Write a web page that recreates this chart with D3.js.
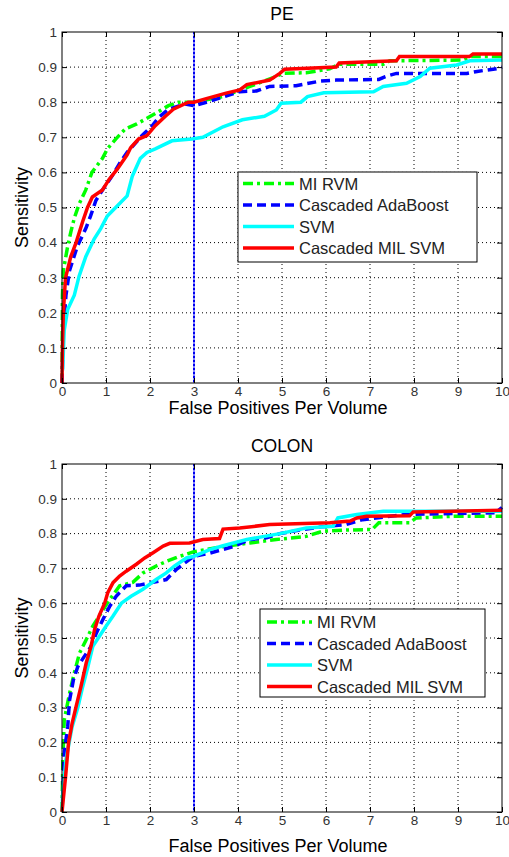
<!DOCTYPE html>
<html>
<head>
<meta charset="utf-8">
<script src="https://cdn.jsdelivr.net/npm/d3@7"></script>
<style>
  body { margin: 0; background: #fff; }
  text { font-family: "Liberation Sans", Arial, sans-serif; }
</style>
</head>
<body>
<div class="chart"></div>
<script>
// tick values
var xTicks = [0, 1, 2, 3, 4, 5, 6, 7, 8, 9, 10];
var yTicks = [0, 0.1, 0.2, 0.3, 0.4, 0.5, 0.6, 0.7, 0.8, 0.9, 1];
var seriesNames = ["MI RVM", "Cascaded AdaBoost", "SVM", "Cascaded MIL SVM"];

// PE curves [fp per volume, sensitivity]
var peMiRvm = [[0,0],[0.01,0.25],[0.03,0.32],[0.13,0.39],[0.2,0.43],[0.28,0.47],[0.39,0.51],[0.54,0.55],[0.68,0.6],
  [0.92,0.64],[1.03,0.667],[1.22,0.695],[1.44,0.724],[1.7,0.738],[1.97,0.757],[2.23,0.776],[2.42,0.79],[2.65,0.8],
  [3.0,0.8],[3.66,0.816],[4.27,0.845],[4.8,0.87],[5.02,0.882],[5.55,0.884],[6.08,0.895],[6.3,0.908],[7.3,0.908],
  [7.45,0.918],[9.1,0.92],[9.3,0.93],[10,0.93]];
var peAdaBoost = [[0,0],[0.03,0.15],[0.09,0.25],[0.17,0.32],[0.35,0.39],[0.54,0.44],[0.65,0.476],[0.77,0.52],[0.92,0.55],
  [1.14,0.59],[1.33,0.63],[1.48,0.657],[1.82,0.705],[2.05,0.733],[2.2,0.757],[2.42,0.78],[2.8,0.795],[3.0,0.79],
  [3.28,0.8],[4.04,0.83],[4.42,0.832],[4.72,0.845],[5.32,0.847],[5.86,0.86],[6.23,0.863],[7.2,0.865],[7.35,0.873],
  [7.6,0.882],[9.2,0.882],[9.4,0.887],[9.9,0.896],[10,0.9]];
var peSvm = [[0,0.03],[0.015,0.04],[0.05,0.15],[0.13,0.21],[0.28,0.25],[0.39,0.305],[0.54,0.36],[0.73,0.41],[0.88,0.44],
  [1.03,0.476],[1.26,0.505],[1.48,0.533],[1.6,0.59],[1.78,0.64],[1.93,0.657],[2.12,0.667],[2.5,0.69],[2.95,0.695],
  [3.2,0.7],[3.66,0.73],[4.1,0.75],[4.6,0.76],[4.87,0.778],[4.98,0.797],[5.43,0.8],[5.58,0.816],[5.95,0.827],
  [7.08,0.83],[7.3,0.845],[7.83,0.854],[8.14,0.873],[8.36,0.897],[8.97,0.906],[9.27,0.918],[10,0.92]];
var peMilSvm = [[0,0],[0.01,0.1],[0.03,0.2],[0.08,0.3],[0.2,0.36],[0.32,0.4],[0.47,0.46],[0.58,0.5],[0.69,0.53],
  [0.92,0.55],[1.07,0.58],[1.26,0.61],[1.48,0.65],[1.56,0.67],[1.74,0.695],[1.93,0.705],[2.12,0.733],[2.35,0.76],
  [2.53,0.78],[2.87,0.8],[3.0,0.8],[3.28,0.81],[3.73,0.826],[4.04,0.835],[4.2,0.85],[4.72,0.863],[4.95,0.882],
  [5.06,0.894],[6.23,0.9],[6.3,0.912],[7.6,0.918],[7.67,0.93],[9.26,0.93],[9.34,0.937],[10,0.937]];

// COLON curves
var colonMiRvm = [[0,0],[0.02,0.15],[0.05,0.264],[0.17,0.34],[0.28,0.4],[0.4,0.457],[0.55,0.495],[0.7,0.534],
  [0.89,0.572],[1.08,0.61],[1.31,0.65],[1.61,0.66],[1.84,0.687],[2.14,0.707],[2.37,0.72],[2.68,0.735],[3.0,0.748],
  [3.66,0.763],[4.27,0.773],[4.87,0.783],[5.55,0.792],[5.93,0.807],[6.45,0.81],[7.05,0.812],[7.2,0.831],
  [7.9,0.831],[8.05,0.845],[8.95,0.85],[10,0.85]];
var colonAdaBoost = [[0,0.04],[0.015,0.04],[0.03,0.1],[0.05,0.17],[0.13,0.245],[0.17,0.32],[0.26,0.38],[0.36,0.418],
  [0.47,0.44],[0.66,0.476],[0.78,0.514],[0.93,0.553],[1.08,0.59],[1.23,0.62],[1.46,0.65],[1.76,0.652],[2.07,0.66],
  [2.37,0.668],[2.6,0.697],[2.9,0.726],[3.0,0.735],[3.36,0.744],[3.9,0.763],[4.27,0.783],[4.65,0.788],[4.95,0.8],
  [5.4,0.81],[5.93,0.82],[6.45,0.826],[6.83,0.84],[7.8,0.855],[9.85,0.86],[10,0.875]];
var colonSvm = [[0,0],[0.015,0.05],[0.09,0.15],[0.23,0.245],[0.36,0.3],[0.47,0.36],[0.59,0.418],[0.7,0.476],
  [0.85,0.505],[1.0,0.534],[1.16,0.563],[1.35,0.6],[1.57,0.62],[1.84,0.64],[2.14,0.668],[2.37,0.687],[2.56,0.707],
  [2.83,0.73],[3.0,0.735],[3.36,0.754],[3.66,0.765],[4.2,0.783],[4.95,0.8],[5.55,0.816],[6.16,0.821],[6.27,0.845],
  [6.7,0.855],[7.3,0.864],[10,0.864]];
var colonMilSvm = [[0,0],[0.08,0.1],[0.15,0.2],[0.23,0.255],[0.32,0.303],[0.43,0.36],[0.55,0.428],[0.66,0.476],
  [0.74,0.524],[0.84,0.563],[0.97,0.6],[1.04,0.63],[1.16,0.659],[1.31,0.678],[1.46,0.692],[1.69,0.712],[1.88,0.73],
  [2.07,0.745],[2.3,0.764],[2.45,0.772],[2.9,0.773],[3.2,0.783],[3.58,0.786],[3.66,0.813],[4.04,0.816],[4.72,0.826],
  [6.09,0.831],[6.55,0.836],[6.7,0.845],[6.92,0.85],[7.9,0.851],[7.98,0.862],[10,0.867]];

var colors = ["#00ff00", "#0000ff", "#00ffff", "#ff0000"];
var dashes = ["10,4,3,4", "9,5", null, null];

var svg = d3.select(".chart").append("svg")
  .attr("width", 509)
  .attr("height", 857);

// one panel per dataset
function drawPanel(title, curves, box, legendPos) {
  var x = d3.scaleLinear().domain([0, 10]).range([box.left, box.right]);
  var y = d3.scaleLinear().domain([0, 1]).range([box.bottom, box.top]);
  var g = svg.append("g");

  // grid
  g.selectAll(".gx").data(xTicks.slice(1, -1)).enter().append("line")
    .attr("x1", d => x(d)).attr("x2", d => x(d))
    .attr("y1", box.top).attr("y2", box.bottom)
    .attr("stroke", "#000").attr("stroke-width", 1).attr("stroke-dasharray", "1,3");
  g.selectAll(".gy").data(yTicks.slice(1, -1)).enter().append("line")
    .attr("x1", box.left).attr("x2", box.right)
    .attr("y1", d => y(d)).attr("y2", d => y(d))
    .attr("stroke", "#000").attr("stroke-width", 1).attr("stroke-dasharray", "1,3");

  // marker at 3 FP/vol
  g.append("line")
    .attr("x1", x(3)).attr("x2", x(3))
    .attr("y1", box.top).attr("y2", box.bottom)
    .attr("stroke", "#8080ff").attr("stroke-width", 2);
  g.append("line")
    .attr("x1", x(3)).attr("x2", x(3))
    .attr("y1", box.top).attr("y2", box.bottom)
    .attr("stroke", "#0000ee").attr("stroke-width", 2).attr("stroke-dasharray", "2,2");

  var line = d3.line().x(d => x(d[0])).y(d => y(d[1]));
  curves.forEach(function(c, i) {
    g.append("path")
      .attr("d", line(c))
      .attr("fill", "none")
      .attr("stroke", colors[i])
      .attr("stroke-width", 3.5)
      .attr("stroke-dasharray", dashes[i]);
  });

  // axes (inward ticks, box)
  var bottomAxis = d3.axisBottom(x).tickValues(xTicks).tickSize(-5).tickPadding(3).tickFormat(d3.format("d"));
  var leftAxis = d3.axisLeft(y).tickValues(yTicks).tickSize(-5).tickPadding(5).tickFormat(d => d === 0 || d === 1 ? d : d3.format(".1f")(d));
  var xa = g.append("g").attr("transform", `translate(0, ${box.bottom})`).call(bottomAxis);
  var ya = g.append("g").attr("transform", `translate(${box.left}, 0)`).call(leftAxis);
  [xa, ya].forEach(function(a) {
    a.select(".domain").remove();
    a.selectAll("text").attr("font-size", 13.5).attr("fill", "#333").attr("font-family", "Liberation Sans, Arial, sans-serif");
  });
  g.append("g").attr("transform", `translate(0, ${box.top})`)
    .call(d3.axisTop(x).tickValues(xTicks).tickSize(-5).tickFormat(""))
    .select(".domain").remove();
  g.append("g").attr("transform", `translate(${box.right}, 0)`)
    .call(d3.axisRight(y).tickValues(yTicks).tickSize(-5).tickFormat(""))
    .select(".domain").remove();
  g.append("rect")
    .attr("x", box.left).attr("y", box.top)
    .attr("width", box.right - box.left).attr("height", box.bottom - box.top)
    .attr("fill", "none").attr("stroke", "#000").attr("stroke-width", 1);

  // labels
  var cx = (box.left + box.right) / 2;
  g.append("text").attr("x", cx).attr("y", box.top - 12)
    .attr("text-anchor", "middle").attr("font-size", 17.5).text(title);
  g.append("text").attr("x", cx - 4).attr("y", box.bottom + box.xlab)
    .attr("text-anchor", "middle").attr("font-size", 18).text("False Positives Per Volume");
  g.append("text")
    .attr("transform", `translate(28, ${(box.top + box.bottom) / 2}) rotate(-90)`)
    .attr("text-anchor", "middle").attr("font-size", 18).text("Sensitivity");

  // legend
  var lg = g.append("g").attr("transform", `translate(${legendPos.x}, ${legendPos.y})`);
  lg.append("rect").attr("width", legendPos.w).attr("height", legendPos.h)
    .attr("fill", "#fff").attr("stroke", "#000").attr("stroke-width", 1);
  seriesNames.forEach(function(name, i) {
    var ly = legendPos.first + i * 21.5;
    lg.append("line").attr("x1", legendPos.lineStart).attr("x2", legendPos.lineEnd).attr("y1", ly).attr("y2", ly)
      .attr("stroke", colors[i]).attr("stroke-width", 3.5).attr("stroke-dasharray", dashes[i]);
    lg.append("text").attr("x", legendPos.lineEnd + 5).attr("y", ly + 6)
      .attr("font-size", 16.5).attr("fill", "#222").text(name);
  });
}

drawPanel("PE", [peMiRvm, peAdaBoost, peSvm, peMilSvm],
  { left: 62, right: 502, top: 32, bottom: 383, xlab: 31 },
  { x: 238, y: 172, w: 239, h: 90, first: 11.5, lineStart: 5, lineEnd: 56 });
drawPanel("COLON", [colonMiRvm, colonAdaBoost, colonSvm, colonMilSvm],
  { left: 62, right: 502, top: 464, bottom: 812, xlab: 40 },
  { x: 260, y: 609, w: 225, h: 88, first: 13, lineStart: 7, lineEnd: 52 });
</script>
</body>
</html>
